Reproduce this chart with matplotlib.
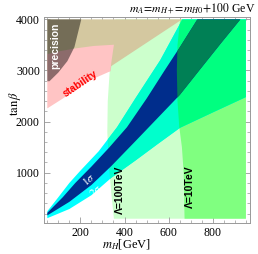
import matplotlib
matplotlib.use("Agg")
import matplotlib.pyplot as plt
from matplotlib.patches import Polygon, Rectangle
from matplotlib.ticker import MultipleLocator

plt.rcParams['font.family'] = ['Liberation Serif', 'DejaVu Serif']
plt.rcParams['mathtext.fontset'] = 'stix'

# ---- data (m_H [GeV], tan beta) ----
# left edges of the cut-off regions
lam100_m = [352, 340, 328, 322, 324, 333, 345, 360]
lam100_t = [100, 600, 1200, 1800, 2400, 3000, 3500, 4000]
lam10_m = [672, 668, 660, 648, 640, 637, 640, 652]
lam10_t = [100, 1000, 1500, 1900, 2400, 3000, 3500, 4000]

# g-2 bands: upper (left) and lower (right) edges
sig2_up_m = [50, 100, 150, 200, 283, 366, 450, 562, 662]
sig2_up_t = [245, 520, 800, 1040, 1420, 1890, 2460, 3203, 4000]
sig2_lo_m = [50, 150, 250, 340, 450, 550, 652, 800, 950]
sig2_lo_t = [110, 290, 560, 900, 1240, 1560, 1880, 2180, 2480]
sig1_up_m = [50, 120, 177, 250, 330, 411, 500, 580, 652, 730]
sig1_up_t = [215, 520, 800, 1120, 1490, 1890, 2450, 2990, 3465, 4000]
sig1_lo_m = [50, 150, 250, 340, 450, 550, 650, 743, 840, 925]
sig1_lo_t = [165, 430, 760, 1130, 1620, 2070, 2520, 3026, 3550, 4000]

# excluded regions
prec_m = [50, 661, 340, 336, 50]
prec_t = [4000, 4000, 3086, 2986, 2986]
stab_m = [50, 120, 179, 254, 336, 340, 345, 352, 260, 179, 110, 50]
stab_t = [2258, 2450, 2632, 2829, 2986, 3150, 3300, 3504, 3480, 3433, 3380, 3320]
dark_m = [50, 204, 173, 141, 100, 60, 50]
dark_t = [4000, 4000, 3459, 3183, 2960, 2790, 2790]

M_MIN, M_MAX = 50, 950
T_MIN, T_MAX = 100, 4000

fig = plt.figure(figsize=(2.58, 2.54), dpi=100)
ax = fig.add_axes([0.1705, 0.1228, 0.798, 0.810])
ax.set_xlim(35, 968)
ax.set_ylim(20, 4045)

box = Rectangle((M_MIN, T_MIN), M_MAX - M_MIN, T_MAX - T_MIN, transform=ax.transData)


def region(m, t, color, clip=None, alpha=1.0, z=1):
    p = Polygon(list(zip(m, t)), closed=True, facecolor=color, edgecolor='none',
                alpha=alpha, zorder=z)
    ax.add_patch(p)
    p.set_clip_path(clip if clip is not None else box)
    return p


# Lambda regions: from left edge to right end of scan
lam100 = Polygon(list(zip(lam100_m + [M_MAX, M_MAX], lam100_t + [T_MAX, T_MIN])),
                 closed=True, transform=ax.transData)
lam10 = Polygon(list(zip(lam10_m + [M_MAX, M_MAX], lam10_t + [T_MAX, T_MIN])),
                closed=True, transform=ax.transData)
region(lam100_m + [M_MAX, M_MAX], lam100_t + [T_MAX, T_MIN], '#ccffcc', z=1)
region(lam10_m + [M_MAX, M_MAX], lam10_t + [T_MAX, T_MIN], '#80ff80', z=2)

# 2 sigma band
b2_m = sig2_up_m + [M_MAX] + sig2_lo_m[::-1]
b2_t = sig2_up_t + [T_MAX] + sig2_lo_t[::-1]
region(b2_m, b2_t, '#00ffff', z=3)
region(b2_m, b2_t, '#00ffcc', clip=lam100, z=4)
region(b2_m, b2_t, '#00ff80', clip=lam10, z=5)

# 1 sigma band
b1_m = sig1_up_m + sig1_lo_m[::-1]
b1_t = sig1_up_t + sig1_lo_t[::-1]
region(b1_m, b1_t, '#002d8c', z=6)
region(b1_m, b1_t, '#008055', clip=lam10, z=7)

# precision / stability
region(prec_m, prec_t, '#d4c8a0', z=8)
region(stab_m, stab_t, '#ffc4c4', z=9)
region(dark_m, dark_t, 'black', alpha=0.45, z=10)

# labels
ax.text(88, 3480, 'precision', rotation=90, color='white', fontsize=7.5,
        fontweight='bold', family='Liberation Sans', ha='center', va='center', zorder=12)
ax.text(198, 2732, 'stability', rotation=34, color='red', fontsize=7.5,
        fontweight='bold', family='Liberation Sans', ha='center', va='center', zorder=12)
ax.text(238, 880, r'$1\sigma$', rotation=40, color='white', fontsize=8,
        ha='center', va='center', zorder=12)
ax.text(268, 660, r'$2\sigma$', rotation=40, color='white', fontsize=8,
        ha='center', va='center', zorder=12)
ax.text(381, 675, 'Λ=100TeV', rotation=90, color='black', fontsize=7.5,
        fontweight='bold', family='Liberation Sans', ha='center', va='center', zorder=12)
ax.text(697, 724, 'Λ=10TeV', rotation=90, color='black', fontsize=7.5,
        fontweight='bold', family='Liberation Sans', ha='center', va='center', zorder=12)

# axes styling
ax.set_xticks([200, 400, 600, 800])
ax.set_yticks([1000, 2000, 3000, 4000])
ax.xaxis.set_minor_locator(MultipleLocator(50))
ax.yaxis.set_minor_locator(MultipleLocator(200))
ax.tick_params(which='both', direction='in', top=True, right=True,
               color='#999999', labelsize=8.5, pad=3)
ax.tick_params(which='major', length=4, width=0.6)
ax.tick_params(which='minor', length=2, width=0.5)
for sp in ax.spines.values():
    sp.set_edgecolor('#999999')
    sp.set_linewidth(0.7)

ax.set_xlabel(r'$m_H$[GeV]', fontsize=9, va='center')
ax.xaxis.set_label_coords(0.40, -0.108)
ax.set_ylabel(r'$\tan\beta$', fontsize=9, va='center')
ax.yaxis.set_label_coords(-0.14, 0.58)

fig.text(0.99, 0.966, r'$m_A\!=\!m_{H+}\!=\!m_{H0}\!+\!100$ GeV', ha='right',
         va='center', fontsize=8.5)

fig.savefig('out.png', dpi=100)
